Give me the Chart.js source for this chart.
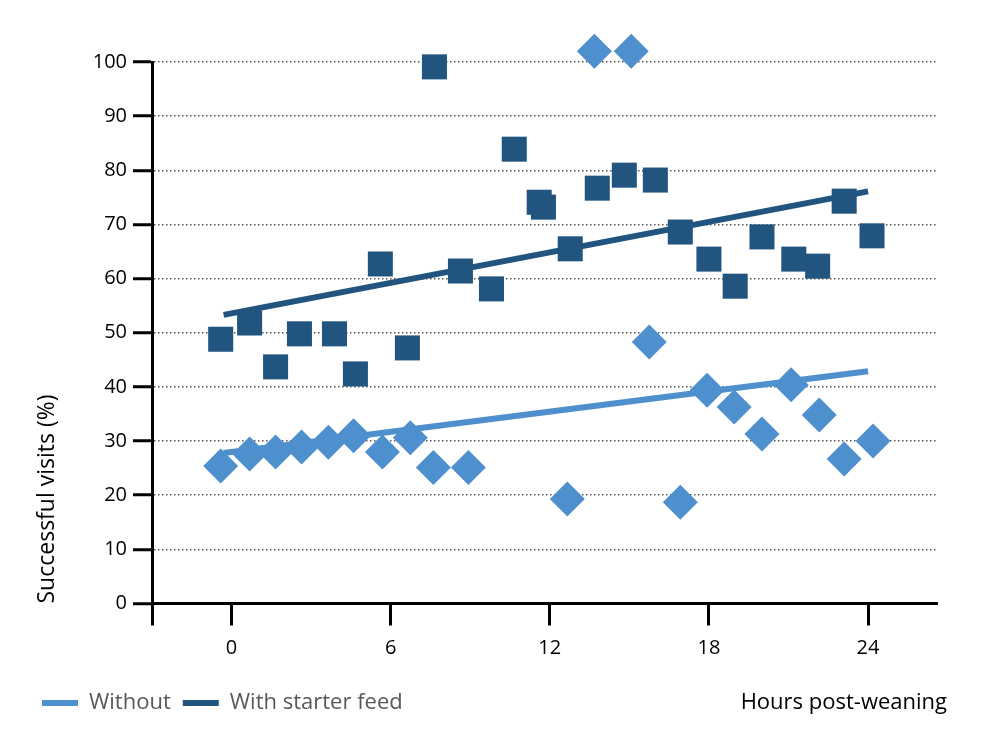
<!DOCTYPE html>
<html>
<head>
<meta charset="utf-8">
<script src="https://cdn.jsdelivr.net/npm/chart.js@4/dist/chart.umd.min.js"></script>
<style>
  html, body { margin: 0; padding: 0; background: #fff; }
  #wrap { width: 1000px; height: 750px; }
</style>
</head>
<body>
<div id="wrap"><canvas id="myChart" width="1000" height="750"></canvas></div>
<script>
// values
var xTicks = [0, 6, 12, 18, 24];

var withX = [-0.41, 0.68, 1.66, 2.56, 3.88, 4.67, 5.61, 6.63, 7.65, 8.63, 9.8, 10.66, 11.6, 11.76, 12.77, 13.79, 14.81, 15.98, 16.92, 18.0, 18.99, 20.0, 21.2, 22.1, 23.1, 24.15];
var withY = [48.8, 51.8, 43.7, 49.8, 49.8, 42.4, 62.7, 47.2, 99.1, 61.4, 58.1, 83.9, 74.1, 73.2, 65.5, 76.7, 79.1, 78.2, 68.6, 63.6, 58.6, 67.7, 63.6, 62.3, 74.3, 67.9];

var withoutX = [-0.41, 0.68, 1.66, 2.64, 3.65, 4.6, 5.69, 6.74, 7.61, 8.93, 12.66, 13.68, 15.07, 15.75, 16.92, 17.93, 18.95, 20.0, 21.1, 22.16, 23.1, 24.19];
var withoutY = [25.4, 27.6, 28.0, 28.9, 29.8, 31.0, 28.0, 30.6, 25.1, 25.1, 19.3, 102, 102, 48.3, 18.7, 39.4, 36.3, 31.3, 40.4, 34.8, 26.7, 30.0];

var trendX = [-0.3, 24];
var withTrend = [53.3, 76.1];
var withoutTrend = [27.8, 42.9];

var lightBlue = '#4e90cd';
var darkBlue = '#21557f';
var font = 'Open Sans';

function pts(xs, ys) {
  return xs.map(function (x, i) { return { x: x, y: ys[i] }; });
}

var xTitle = {
  id: 'xTitle',
  afterDraw: function (chart) {
    var c = chart.ctx;
    c.save();
    c.font = '22px "' + font + '"';
    c.fillStyle = '#000';
    c.textAlign = 'right';
    c.textBaseline = 'middle';
    c.fillText('Hours post-weaning', 947, 703);
    c.restore();
  }
};

var ctx = document.getElementById('myChart').getContext('2d');
var config = {
  type: 'scatter',
  data: {
    datasets: [{
      label: 'With starter feed',
      data: pts(withX, withY),
      pointStyle: 'rect',
      pointRadius: 17.7,
      backgroundColor: darkBlue,
      borderWidth: 0,
      clip: false
    }, {
      label: 'Without',
      data: pts(withoutX, withoutY),
      pointStyle: 'rectRot',
      pointRadius: 17.5,
      backgroundColor: lightBlue,
      borderWidth: 0,
      clip: false
    }, {
      type: 'line',
      label: 'Without',
      data: pts(trendX, withoutTrend),
      borderColor: lightBlue,
      backgroundColor: lightBlue,
      borderWidth: 6,
      pointRadius: 0
    }, {
      type: 'line',
      label: 'With starter feed',
      data: pts(trendX, withTrend),
      borderColor: darkBlue,
      backgroundColor: darkBlue,
      borderWidth: 6,
      pointRadius: 0
    }]
  },
  options: {
    responsive: false,
    animation: false,
    layout: { padding: { left: 30, right: 63, top: 62, bottom: 26 } },
    plugins: {
      tooltip: { enabled: false },
      legend: {
        position: 'bottom',
        align: 'start',
        labels: {
          boxWidth: 36,
          boxHeight: 6,
          padding: 12,
          color: '#595959',
          font: { family: font, size: 22 },
          generateLabels: function (chart) {
            return [2, 3].map(function (i) {
              var d = chart.data.datasets[i];
              return { text: d.label, fillStyle: d.borderColor, strokeStyle: d.borderColor, lineWidth: 0, datasetIndex: i, fontColor: '#595959' };
            });
          }
        }
      }
    },
    scales: {
      x: {
        type: 'linear',
        min: -3,
        max: 26.6,
        afterBuildTicks: function (s) {
          s.ticks = [{ value: -3 }].concat(xTicks.map(function (v) { return { value: v }; }));
        },
        afterFit: function (s) { s.height = 76.5; },
        ticks: {
          color: '#000',
          padding: 11,
          font: { family: font, size: 20 },
          callback: function (v) { return v < 0 ? '' : v; }
        },
        grid: {
          drawOnChartArea: false,
          tickLength: 22,
          tickWidth: 3,
          tickColor: '#000'
        },
        border: { display: true, color: '#000', width: 3 }
      },
      y: {
        min: 0,
        max: 100,
        afterFit: function (s) { s.width = 122; },
        ticks: {
          stepSize: 10,
          color: '#000',
          padding: 6,
          font: { family: font, size: 20 }
        },
        grid: {
          color: function (c) { return c.tick && c.tick.value === 0 ? 'rgba(0,0,0,0)' : '#555'; },
          lineWidth: 1.5,
          tickLength: 19,
          tickWidth: 3,
          tickColor: '#000'
        },
        border: { display: true, color: '#000', width: 3, dash: [1.5, 2.5] },
        title: {
          display: true,
          text: 'Successful visits (%)',
          align: 'start',
          color: '#000',
          padding: { top: 4, bottom: 0 },
          font: { family: font, size: 23 }
        }
      }
    }
  },
  plugins: [xTitle]
};

var chart = new Chart(ctx, config);
</script>
</body>
</html>
